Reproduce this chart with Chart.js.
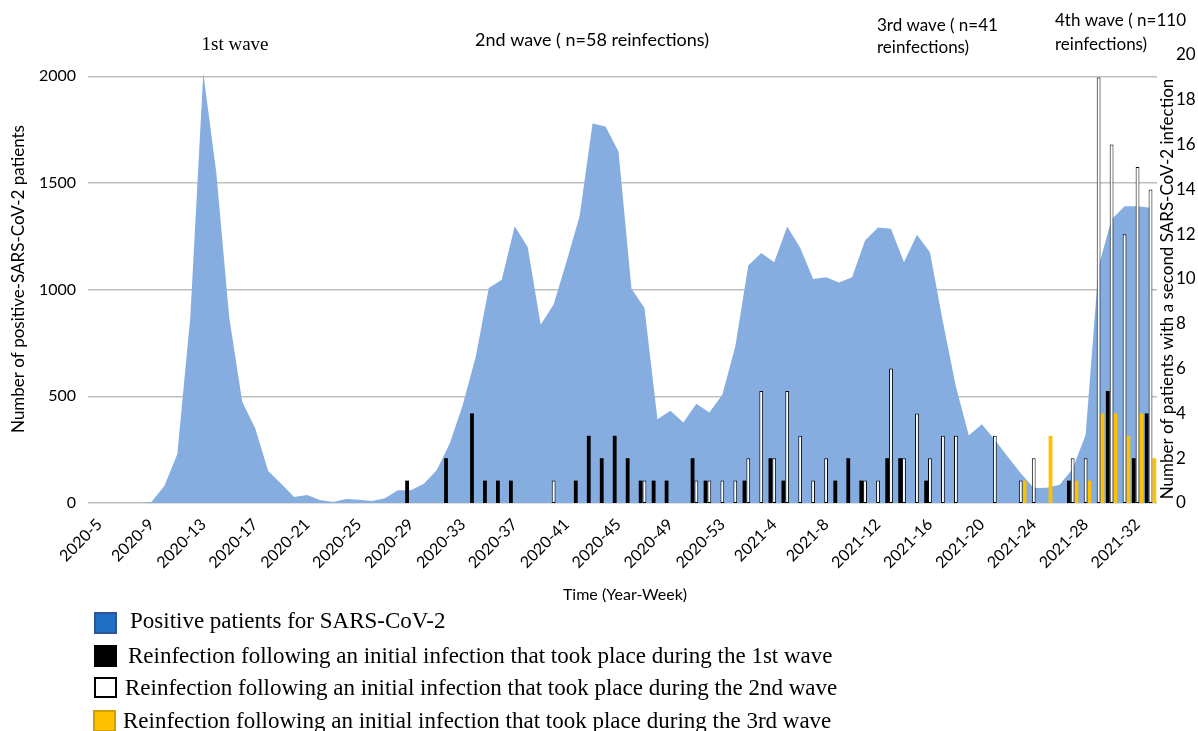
<!DOCTYPE html>
<html>
<head>
<meta charset="utf-8">
<script src="https://cdn.jsdelivr.net/npm/chart.js@4/dist/chart.umd.min.js"></script>
<style>
  html, body { margin: 0; padding: 0; background: #fff; overflow: hidden; }
  #wrap { width: 1198px; height: 731px; }
</style>
</head>
<body>
<div id="wrap"><canvas id="c" width="1198" height="731"></canvas></div>
<script>
// Year-week categories
const weeks = [
  '2020-5','2020-6','2020-7','2020-8','2020-9','2020-10','2020-11','2020-12','2020-13','2020-14',
  '2020-15','2020-16','2020-17','2020-18','2020-19','2020-20','2020-21','2020-22','2020-23','2020-24',
  '2020-25','2020-26','2020-27','2020-28','2020-29','2020-30','2020-31','2020-32','2020-33','2020-34',
  '2020-35','2020-36','2020-37','2020-38','2020-39','2020-40','2020-41','2020-42','2020-43','2020-44',
  '2020-45','2020-46','2020-47','2020-48','2020-49','2020-50','2020-51','2020-52','2020-53',
  '2021-1','2021-2','2021-3','2021-4','2021-5','2021-6','2021-7','2021-8','2021-9','2021-10',
  '2021-11','2021-12','2021-13','2021-14','2021-15','2021-16','2021-17','2021-18','2021-19','2021-20',
  '2021-21','2021-22','2021-23','2021-24','2021-25','2021-26','2021-27','2021-28','2021-29','2021-30',
  '2021-31','2021-32','2021-33'
];

// Weekly number of SARS-CoV-2 positive patients
const positivePatients = [
  0, 0, 0, 0, 5, 80, 230, 873, 2015, 1550,
  870, 475, 350, 150, 90, 28, 38, 14, 5, 19,
  15, 9, 22, 60, 60, 90, 155, 280, 460, 687,
  1008, 1047, 1297, 1200, 836, 930, 1133, 1344, 1779, 1765,
  1648, 1004, 914, 393, 432, 377, 465, 424, 507,
  734, 1113, 1172, 1128, 1296, 1196, 1050, 1058, 1034, 1058,
  1230, 1291, 1286, 1128, 1258, 1175, 850, 546, 316, 369,
  296, 217, 139, 70, 72, 85, 160, 320, 1110, 1329,
  1391, 1391, 1384
];

// Reinfections after a first infection in the 1st wave
const wave1Weeks  = ['2020-29','2020-32','2020-34','2020-35','2020-36','2020-37','2020-42','2020-43','2020-44','2020-45',
                     '2020-46','2020-47','2020-48','2020-49','2020-51','2020-52','2021-2','2021-4','2021-5','2021-9',
                     '2021-10','2021-11','2021-13','2021-14','2021-16','2021-27','2021-30','2021-32','2021-33'];
const wave1Counts = [1, 2, 4, 1, 1, 1, 1, 3, 2, 3,
                     2, 1, 1, 1, 2, 1, 1, 2, 1, 1,
                     2, 1, 2, 2, 1, 1, 5, 2, 4];

// Reinfections after a first infection in the 2nd wave
const wave2Weeks  = ['2020-40','2020-47','2020-51','2020-52','2020-53','2021-1','2021-2','2021-3','2021-4','2021-5',
                     '2021-6','2021-7','2021-8','2021-11','2021-12','2021-13','2021-14','2021-15','2021-16','2021-17',
                     '2021-18','2021-21','2021-23','2021-24','2021-27','2021-28','2021-29','2021-30','2021-31','2021-32',
                     '2021-33'];
const wave2Counts = [1, 1, 1, 1, 1, 1, 2, 5, 2, 5,
                     3, 1, 2, 1, 1, 6, 2, 4, 2, 3,
                     3, 3, 1, 2, 2, 2, 19, 16, 12, 15,
                     14];

// Reinfections after a first infection in the 3rd wave
const wave3Weeks  = ['2021-23','2021-25','2021-27','2021-28','2021-29','2021-30','2021-31','2021-32','2021-33'];
const wave3Counts = [1, 3, 1, 1, 4, 4, 3, 4, 2];

// Left axis tick values and right axis range
const leftTicks = [0, 500, 1000, 1500, 2000];
const rightMax = 20;

function weeklySeries(keys, counts) {
  return weeks.map(w => {
    const k = keys.indexOf(w);
    return k >= 0 ? counts[k] : null;
  });
}

const SANS = 'Lato, "Open Sans", sans-serif';
const SERIF = '"Liberation Serif", "Times New Roman", serif';

const legendItems = [
  { text: 'Positive patients for SARS-CoV-2', fill: '#1F6FC6', stroke: '#2F5597' },
  { text: 'Reinfection following an initial infection that took place during the 1st wave', fill: '#000000', stroke: '#000000' },
  { text: 'Reinfection following an initial infection that took place during the 2nd wave', fill: '#FFFFFF', stroke: '#000000' },
  { text: 'Reinfection following an initial infection that took place during the 3rd wave', fill: '#FFC000', stroke: '#D39E00' }
];

// Wave captions, right axis caption and the legend block
const decorations = {
  id: 'decorations',
  afterDraw(chart) {
    const ctx = chart.ctx;
    ctx.save();
    ctx.fillStyle = '#000';
    ctx.textBaseline = 'middle';

    ctx.font = '19px ' + SERIF;
    ctx.textAlign = 'center';
    ctx.fillText('1st wave', 235, 45);

    ctx.font = '18px ' + SANS;
    ctx.fillText('2nd wave ( n=58 reinfections)', 592, 40);
    ctx.font = '17px ' + SANS;
    ctx.textAlign = 'left';
    ctx.fillText('3rd wave ( n=41', 877, 26);
    ctx.fillText('reinfections)', 877, 48);
    ctx.fillText('4th wave ( n=110', 1055, 21);
    ctx.fillText('reinfections)', 1055, 45);

    // right axis caption sits between the plot and its tick labels
    ctx.save();
    ctx.translate(1168, 289);
    ctx.rotate(-Math.PI / 2);
    ctx.textAlign = 'center';
    ctx.font = '17px ' + SANS;
    ctx.fillText('Number of patients with a second SARS-CoV-2 infection', 0, 0);
    ctx.restore();

    // legend
    const rows = [
      { box: [94, 612, 23, 22], tx: 130, base: 628 },
      { box: [94, 645, 23, 22], tx: 128, base: 663 },
      { box: [94, 677, 23, 21], tx: 125, base: 695 },
      { box: [93, 710, 23, 22], tx: 123, base: 728 }
    ];
    ctx.textBaseline = 'alphabetic';
    ctx.textAlign = 'left';
    ctx.font = '23px ' + SERIF;
    rows.forEach((r, i) => {
      const it = legendItems[i];
      const [bx, by, bw, bh] = r.box;
      ctx.fillStyle = it.fill;
      ctx.fillRect(bx, by, bw, bh);
      ctx.strokeStyle = it.stroke;
      ctx.lineWidth = 2;
      ctx.strokeRect(bx + 1, by + 1, bw - 2, bh - 2);
      ctx.fillStyle = '#000';
      ctx.fillText(it.text, r.tx, r.base);
    });
    ctx.restore();
  }
};

new Chart(document.getElementById('c'), {
  data: {
    labels: weeks,
    datasets: [
      {
        type: 'line',
        label: legendItems[0].text,
        data: positivePatients,
        yAxisID: 'y',
        fill: 'origin',
        backgroundColor: '#86ADE0',
        borderWidth: 0,
        borderColor: 'rgba(0,0,0,0)',
        pointRadius: 0,
        tension: 0,
        order: 10
      },
      {
        type: 'bar',
        label: legendItems[1].text,
        data: weeklySeries(wave1Weeks, wave1Counts),
        yAxisID: 'y1',
        backgroundColor: '#000000',
        categoryPercentage: 0.88,
        barPercentage: 1.0,
        order: 1
      },
      {
        type: 'bar',
        label: legendItems[2].text,
        data: weeklySeries(wave2Weeks, wave2Counts),
        yAxisID: 'y1',
        backgroundColor: '#FFFFFF',
        borderColor: '#000000',
        borderWidth: 1,
        borderSkipped: false,
        categoryPercentage: 0.88,
        barPercentage: 1.0,
        order: 1
      },
      {
        type: 'bar',
        label: legendItems[3].text,
        data: weeklySeries(wave3Weeks, wave3Counts),
        yAxisID: 'y1',
        backgroundColor: '#FFC000',
        categoryPercentage: 0.88,
        barPercentage: 1.0,
        order: 1
      }
    ]
  },
  options: {
    responsive: false,
    animation: false,
    layout: { padding: { top: 55, bottom: 124, left: 0, right: 0 } },
    plugins: { legend: { display: false }, tooltip: { enabled: false } },
    scales: {
      x: {
        offset: true,
        grid: { display: false },
        border: { display: false },
        ticks: {
          autoSkip: false,
          maxRotation: 45,
          minRotation: 45,
          padding: 4,
          color: '#000',
          font: { family: SANS, size: 16 },
          callback(v, i) { return i % 4 === 0 ? this.getLabelForValue(v) : ''; }
        },
        title: {
          display: true,
          text: 'Time (Year-Week)',
          color: '#000',
          font: { family: SANS, size: 16 },
          padding: { top: 0, bottom: 3 }
        },
        afterFit(s) { s.height = 104; }
      },
      y: {
        position: 'left',
        min: 0,
        max: 2100,
        afterBuildTicks(s) { s.ticks = leftTicks.map(v => ({ value: v })); },
        ticks: {
          padding: 12,
          color: '#000',
          font: { family: SANS, size: 16 },
          callback(v) { return String(v); }
        },
        grid: { color: '#BFBFBF', lineWidth: 1.5, tickLength: 5 },
        border: { display: false },
        title: {
          display: true,
          text: 'Number of positive-SARS-CoV-2 patients',
          color: '#000',
          font: { family: SANS, size: 17 },
          padding: { top: 8, bottom: 0 }
        },
        afterFit(s) { s.width = 93; }
      },
      y1: {
        position: 'right',
        min: 0,
        max: rightMax,
        ticks: {
          stepSize: 2,
          padding: 11,
          color: '#000',
          font: { family: SANS, size: 17 },
          callback(v) { return String(v); }
        },
        grid: { display: false },
        border: { display: false },
        afterFit(s) { s.width = 41; }
      }
    }
  },
  plugins: [decorations]
});
</script>
</body>
</html>
